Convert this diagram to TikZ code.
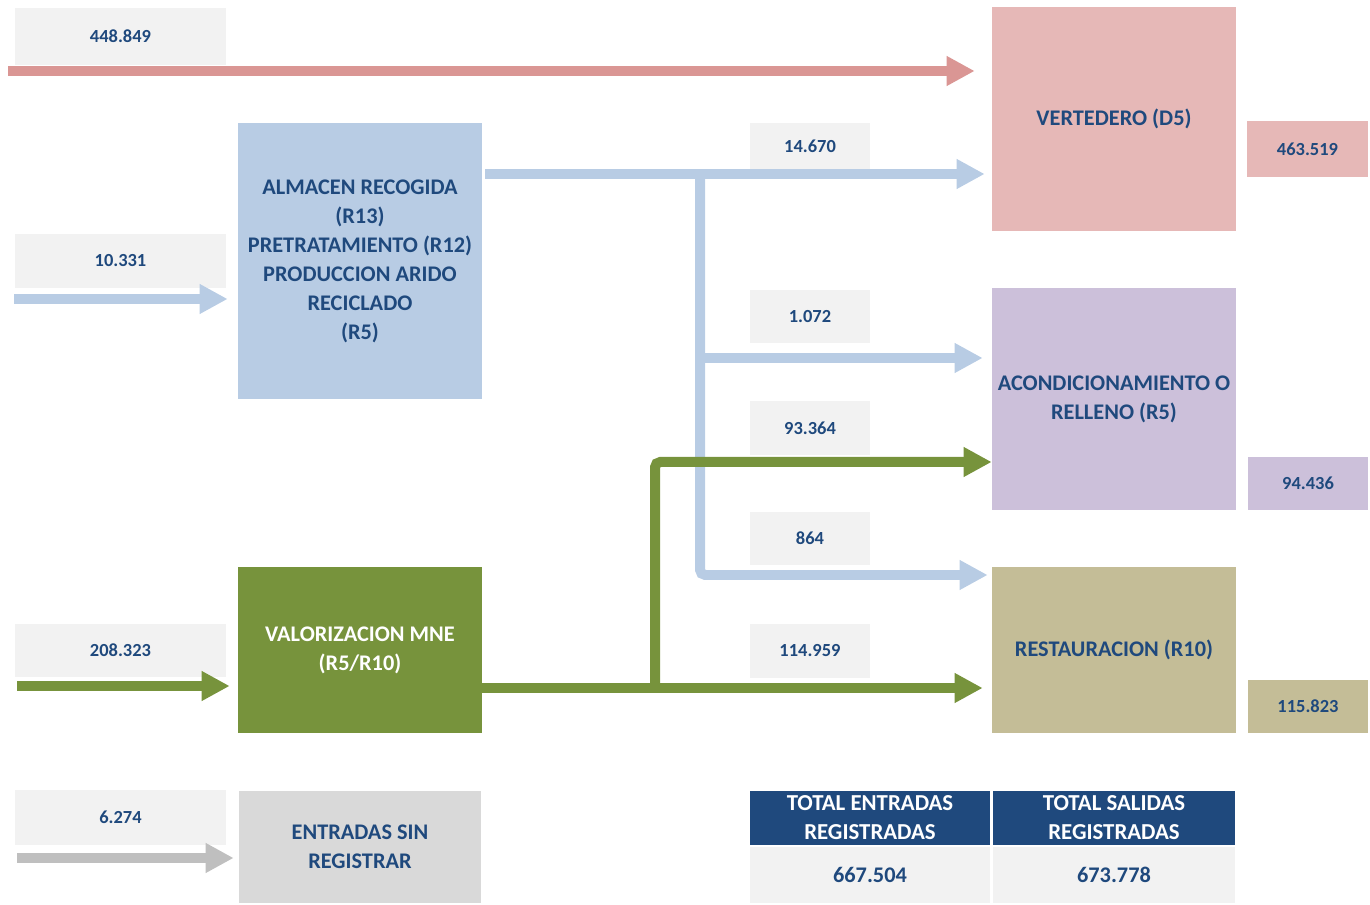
\documentclass[tikz,border=0pt]{standalone}
\usepackage{fontspec}
\setmainfont{Carlito}
\usetikzlibrary{arrows.meta}
\definecolor{txtblue}{RGB}{31,73,125}
\definecolor{cellgray}{RGB}{242,242,242}
\definecolor{redflow}{RGB}{218,150,148}
\definecolor{redfill}{RGB}{230,184,183}
\definecolor{blueflow}{RGB}{184,204,228}
\definecolor{lilac}{RGB}{204,192,218}
\definecolor{olive}{RGB}{119,147,60}
\definecolor{sand}{RGB}{196,189,151}
\definecolor{grayflow}{RGB}{191,191,191}
\definecolor{grayfill}{RGB}{217,217,217}

\begin{document}
\begin{tikzpicture}[x=0.02cm,y=-0.02cm,
	cell/.style={fill=cellgray,text=txtblue,font=\bfseries\fontsize{10.5}{13}\selectfont,inner sep=0pt},
	bigbox/.style={text=txtblue,align=center,font=\bfseries\fontsize{12.7}{16.5}\selectfont,minimum width=4.88cm,inner sep=0pt},
	head/.style={fill=txtblue,text=white,align=center,font=\bfseries\fontsize{13}{16.5}\selectfont,minimum width=4.8cm,minimum height=1.08cm,inner sep=0pt},
	flow/.style={line width=0.2cm,-{Triangle[length=0.56cm,width=0.56cm]}}]
	\useasboundingbox (0,0) rectangle (1370,905);
	% left column
	\node[cell,minimum width=4.22cm,minimum height=1.14cm] (n448) at (120.5,36.5) {448.849};
	\node[cell,minimum width=4.22cm,minimum height=1.08cm] (n10) at (120.5,261) {10.331};
	\node[cell,minimum width=4.22cm,minimum height=1.06cm] (n208) at (120.5,650.5) {208.323};
	\node[cell,minimum width=4.22cm,minimum height=1.1cm] (n6) at (120.5,817.5) {6.274};
	% process boxes
	\node[bigbox,fill=blueflow,minimum height=5.54cm] (alm) at (360,261)
		{ALMACEN RECOGIDA\\(R13)\\PRETRATAMIENTO (R12)\\PRODUCCION ARIDO\\RECICLADO\\(R5)};
	\node[bigbox,fill=olive,text=white,minimum height=3.32cm] (val) at (360,650) {VALORIZACION MNE\\(R5/R10)};
	\node[bigbox,fill=grayfill,minimum width=4.84cm,minimum height=2.24cm] (sin) at (360,847) {ENTRADAS SIN\\REGISTRAR};
	% destinations
	\node[bigbox,fill=redfill,minimum height=4.48cm] (vert) at (1114,119) {VERTEDERO (D5)};
	\node[bigbox,fill=lilac,minimum height=4.44cm] (acon) at (1114,399) {ACONDICIONAMIENTO O\\RELLENO (R5)};
	\node[bigbox,fill=sand,minimum height=3.32cm] (rest) at (1114,650) {RESTAURACION (R10)};
	\node[cell,fill=redfill,minimum width=2.42cm,minimum height=1.12cm] (o463) at (1307.5,149) {463.519};
	\node[cell,fill=lilac,minimum width=2.4cm,minimum height=1.06cm] (o94) at (1308,483.5) {94.436};
	\node[cell,fill=sand,minimum width=2.4cm,minimum height=1.06cm] (o115) at (1308,706.5) {115.823};
	% flow values
	\node[cell,minimum width=2.4cm,minimum height=0.94cm] (f14) at (810,146) {14.670};
	\node[cell,minimum width=2.4cm,minimum height=1.06cm] (f1072) at (810,316.5) {1.072};
	\node[cell,minimum width=2.4cm,minimum height=1.08cm] (f93) at (810,428) {93.364};
	\node[cell,minimum width=2.4cm,minimum height=1.06cm] (f864) at (810,538.5) {864};
	\node[cell,minimum width=2.4cm,minimum height=1.08cm] (f114) at (810,651) {114.959};
	% totals
	\node[head] (teh) at (870,818) {TOTAL ENTRADAS\\REGISTRADAS};
	\node[head,minimum width=4.84cm] (tsh) at (1114,818) {TOTAL SALIDAS\\REGISTRADAS};
	\node[cell,minimum width=4.8cm,minimum height=1.12cm,font=\bfseries\fontsize{12.7}{16}\selectfont] (tev) at (870,875) {667.504};
	\node[cell,minimum width=4.84cm,minimum height=1.12cm,font=\bfseries\fontsize{12.7}{16}\selectfont] (tsv) at (1114,875) {673.778};
	% connectors
	\coordinate (r0) at (8,71);
	\coordinate (i10) at (14,299);
	\coordinate (i208) at (17,686);
	\coordinate (i6) at (17,858);
	\coordinate (sp) at (700,174);
	\coordinate (y1072) at (0,358);
	\coordinate (y864) at (0,575);
	\coordinate (gs) at (655,688);
	\coordinate (y93) at (0,462);
	\draw[flow,redflow,shorten >=0.34cm] (r0) -- (vert.west |- r0);
	\draw[flow,blueflow,shorten >=0.2cm] (i10) -- (alm.west |- i10);
	\draw[flow,olive,shorten >=0.16cm] (i208) -- (val.west |- i208);
	\draw[flow,grayflow,shorten >=0.1cm] (i6) -- (sin.west |- i6);
	\draw[flow,blueflow,shorten >=0.14cm] ([xshift=0.06cm]alm.east |- sp) -- (vert.west |- sp);
	\draw[flow,blueflow,shorten >=0.18cm] (sp |- y1072) -- (acon.west |- y1072);
	\draw[flow,blueflow,rounded corners=3pt,shorten >=0.08cm] (sp) -- (sp |- y864) -- (rest.west |- y864);
	\draw[flow,olive,shorten >=0.18cm] (val.east |- gs) -- (rest.west |- gs);
	\draw[flow,olive,rounded corners=3pt] (gs) -- (gs |- y93) -- (acon.west |- y93);
\end{tikzpicture}
\end{document}
